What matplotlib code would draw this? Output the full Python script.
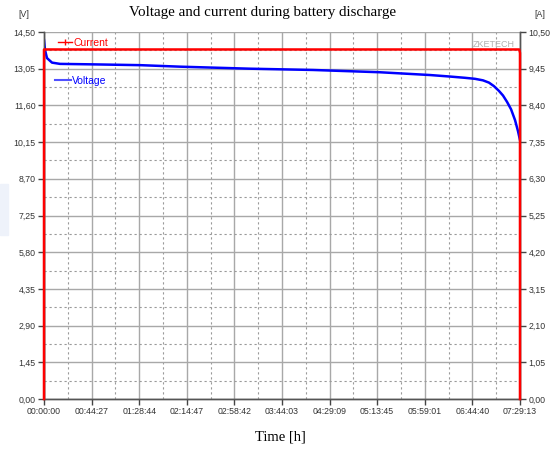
import numpy as np
import matplotlib.pyplot as plt
from matplotlib.lines import Line2D
from matplotlib.patches import Rectangle

# time in hours, voltage in V
t_voltage = [0.0, 0.016, 0.047, 0.126, 0.252, 0.8, 1.51, 2.14, 3.24, 4.23,
             5.28, 6.071, 6.386, 6.622, 6.779, 6.905, 6.999, 7.078, 7.157,
             7.220, 7.283, 7.346, 7.409, 7.456, 7.487]
voltage = [14.18, 13.79, 13.47, 13.29, 13.24, 13.22, 13.19, 13.13, 13.05, 13.00,
           12.91, 12.80, 12.74, 12.69, 12.65, 12.59, 12.50, 12.36, 12.17,
           11.99, 11.74, 11.45, 11.02, 10.58, 10.23]

# current in A
t_current = [0.0, 0.0, 7.475, 7.487, 7.487]
current = [0.0, 10.0, 10.0, 9.9, 0.0]

t_end = 7.487
x_labels = ['00:00:00', '00:44:27', '01:28:44', '02:14:47', '02:58:42', '03:44:03',
            '04:29:09', '05:13:45', '05:59:01', '06:44:40', '07:29:13']
v_ticks = np.arange(11) * 1.45
a_ticks = np.arange(11) * 1.05

fig = plt.figure(figsize=(5.52, 4.5), dpi=100)
fig.patches.append(Rectangle((0, 0.478), 0.015, 0.113, transform=fig.transFigure,
                             color='#eef2fa', zorder=0))
ax = fig.add_axes([0.0797, 0.1133, 0.8623, 0.8156])
ax2 = ax.twinx()

tick_font = dict(family='Liberation Sans', size=6.3, color='#333333')

ax.set_xlim(0, t_end)
ax.set_ylim(0, 14.5)
ax2.set_ylim(0, 10.5)

xt = np.linspace(0, t_end, 11)
ax.set_xticks(xt)
ax.set_xticklabels(x_labels, **tick_font)
ax.set_xticks((xt[:-1] + xt[1:]) / 2, minor=True)
ax.set_yticks(v_ticks)
ax.set_yticklabels([('%.2f' % v).replace('.', ',') for v in v_ticks], **tick_font)
ax.set_yticks(v_ticks[:-1] + 0.725, minor=True)
ax2.set_yticks(a_ticks)
ax2.set_yticklabels([('%.2f' % a).replace('.', ',') for a in a_ticks], **tick_font)

ax.grid(which='major', color='#a8a8a8', lw=1.0, ls='-')
ax.grid(which='minor', color='#9a9a9a', lw=0.8, ls=(0, (2, 2.5)))
ax.tick_params(which='minor', length=0)
ax.tick_params(which='major', length=4, width=1, color='#444444', pad=2)
ax2.tick_params(length=4, width=1, color='#444444', pad=2)

for a in (ax, ax2):
    a.spines['top'].set_visible(False)
    for s in ('left', 'right', 'bottom'):
        a.spines[s].set_color('#555555')
        a.spines[s].set_linewidth(1.0)

ax.plot(t_voltage, voltage, color='#0000ff', lw=1.8, zorder=3)
ax2.plot(t_current, current, color='#ff0000', lw=1.8, zorder=3, clip_on=False)

leg1 = ax.legend([Line2D([], [], color='#ff0000', lw=1, marker='|', markersize=5,
                         markevery=[1])], ['Current'],
                 loc='upper left', bbox_to_anchor=(0.01, 1.01), frameon=False,
                 handlelength=1.3, handletextpad=0.15, labelcolor='#ff0000',
                 prop={'family': 'Liberation Sans', 'size': 7.5})
ax.add_artist(leg1)
ax.legend([Line2D([], [], color='#5050ff', lw=1.5)], ['Voltage'],
          loc='upper left', bbox_to_anchor=(0.003, 0.907), frameon=False,
          handlelength=1.6, handletextpad=0.0, labelcolor='#0000ff',
          prop={'family': 'Liberation Sans', 'size': 7.5})

ax.text(0.99, 0.965, 'ZKETECH', transform=ax.transAxes, ha='right', va='center',
        fontsize=6.5, color='#b0b0b0', family='Liberation Sans')

fig.text(0.475, 0.972, 'Voltage and current during battery discharge',
         ha='center', va='center', family='Liberation Serif', fontsize=10.8)
fig.text(0.508, 0.028, 'Time [h]', ha='center', va='center',
         family='Liberation Serif', fontsize=10.5)
fig.text(0.043, 0.968, '[V]', ha='center', va='center', **tick_font)
fig.text(0.978, 0.968, '[A]', ha='center', va='center', **tick_font)

plt.savefig('out.png', dpi=100)
